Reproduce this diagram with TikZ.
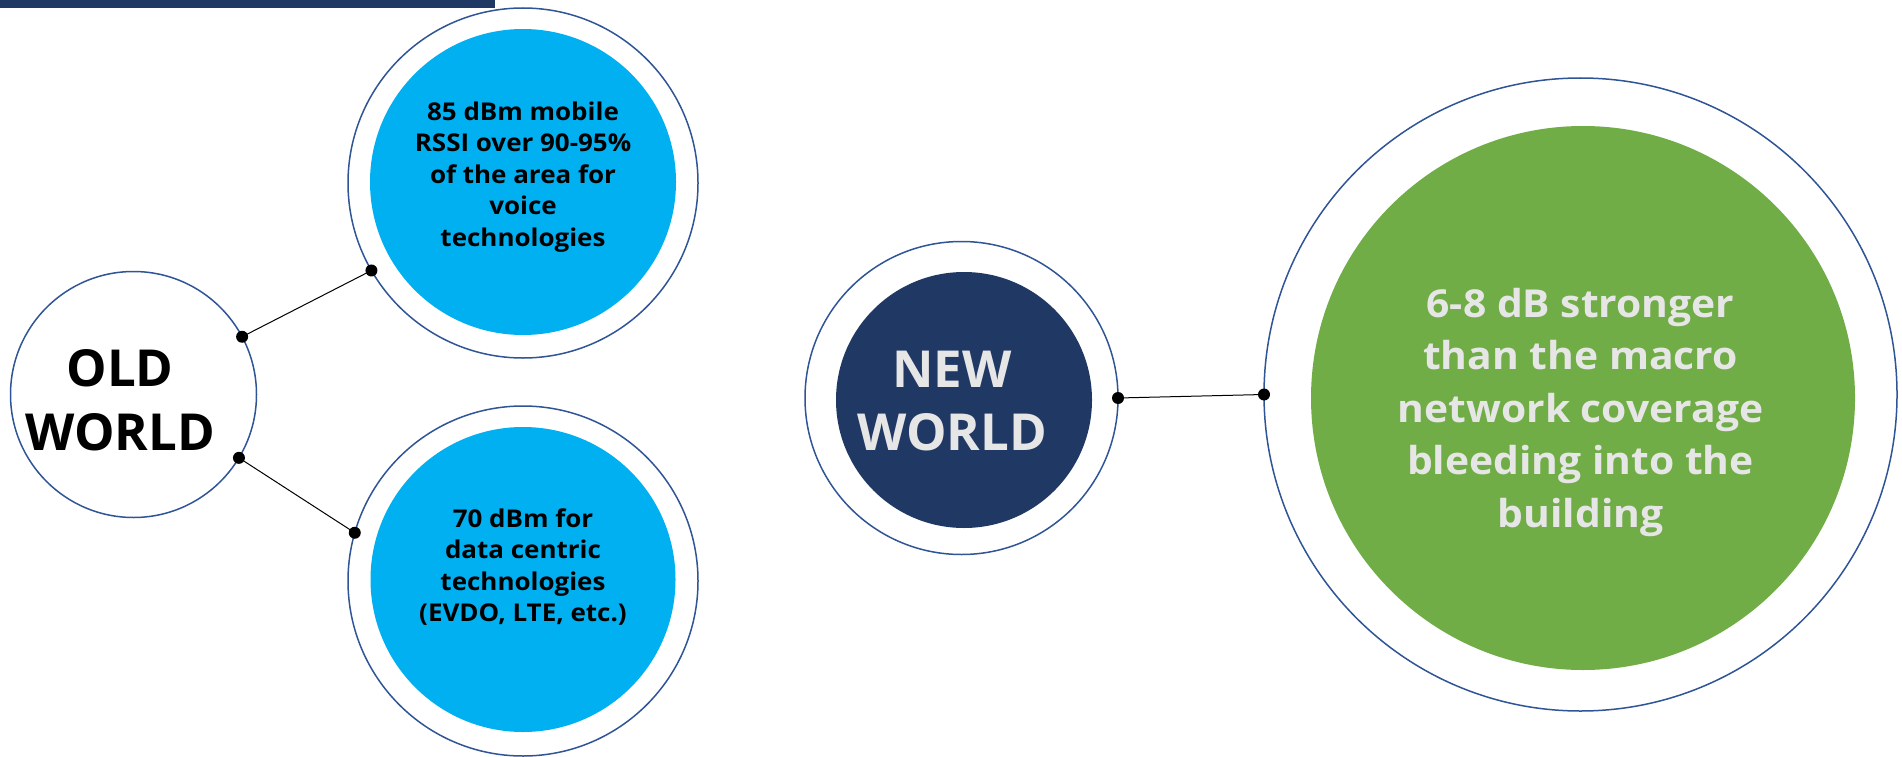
\documentclass[tikz,border=0pt]{standalone}
\usepackage{fontspec}
\setmainfont{Open Sans}
\newfontfamily\widefont[FakeStretch=1.06]{Open Sans}
\definecolor{navy}{HTML}{203864}
\definecolor{ringc}{HTML}{2F5597}
\definecolor{skyb}{HTML}{00B0F0}
\definecolor{leaf}{HTML}{70AD47}
\definecolor{lightg}{HTML}{E7E6E6}
\tikzset{
  ring/.style={circle, draw=ringc, line width=1.5pt, inner sep=0pt, outer sep=0pt, fill=white},
  disc/.style={circle, inner sep=0pt, outer sep=0pt, draw=none},
  txt/.style={align=center, inner sep=0pt, font=\bfseries},
  link/.style={draw=black, line width=1pt},
  dotc/.style={fill=black}
}
\begin{document}
\begin{tikzpicture}[x=1pt, y=-1pt]
\useasboundingbox (0,0) rectangle (1902,757);
\fill[navy] (0,0) rectangle (495,8);

% OLD WORLD
\node[ring, minimum size=246pt] (old) at (133.5,394.5) {};
\node[txt, font=\bfseries\fontsize{51}{64}\selectfont] (oldt) at (120,400.5) {OLD\\WORLD};

% top blue
\node[ring, minimum size=350pt] (top) at (523,183) {};
\node[disc, fill=skyb, minimum size=306pt] (topin) at (523,182) {};
\node[txt, font=\widefont\bfseries\fontsize{24.5}{31.5}\selectfont] (topt) at (523,177) {85 dBm mobile\\RSSI over 90-95\%\\of the area for\\voice\\technologies};

% bottom blue
\node[ring, minimum size=350pt] (bot) at (523,581) {};
\node[disc, fill=skyb, minimum size=305pt] (botin) at (523,579.5) {};
\node[txt, font=\widefont\bfseries\fontsize{24.5}{31.5}\selectfont] (bott) at (523,567) {70 dBm for\\data centric\\technologies\\(EVDO, LTE, etc.)};

% NEW WORLD
\node[ring, minimum size=313pt] (new) at (961.5,398) {};
\node[disc, fill=navy, minimum size=256pt] (newin) at (964,400) {};
\node[txt, text=lightg, font=\bfseries\fontsize{51}{63}\selectfont] (newt) at (952,400.8) {NEW\\WORLD};

% green
\node[ring, minimum size=633pt] (grn) at (1580.5,394.5) {};
\node[disc, fill=leaf, minimum size=544pt] (grnin) at (1583,398) {};
\node[txt, text=lightg, font=\widefont\bfseries\fontsize{38.5}{52.5}\selectfont] (grnt) at (1580.5,412) {6-8 dB stronger\\than the macro\\network coverage\\bleeding into the\\building};

% connectors
\draw[link] (old.28.5) -- (top.210.5);
\draw[link] (old.-31.7) -- (bot.164);
\draw[link] (new.0) -- (grn.180);
\foreach \p in {old.28.5, top.210.5, old.-31.7, bot.164, new.0, grn.180}
  \fill[dotc] (\p) circle (6pt);
\end{tikzpicture}
\end{document}
